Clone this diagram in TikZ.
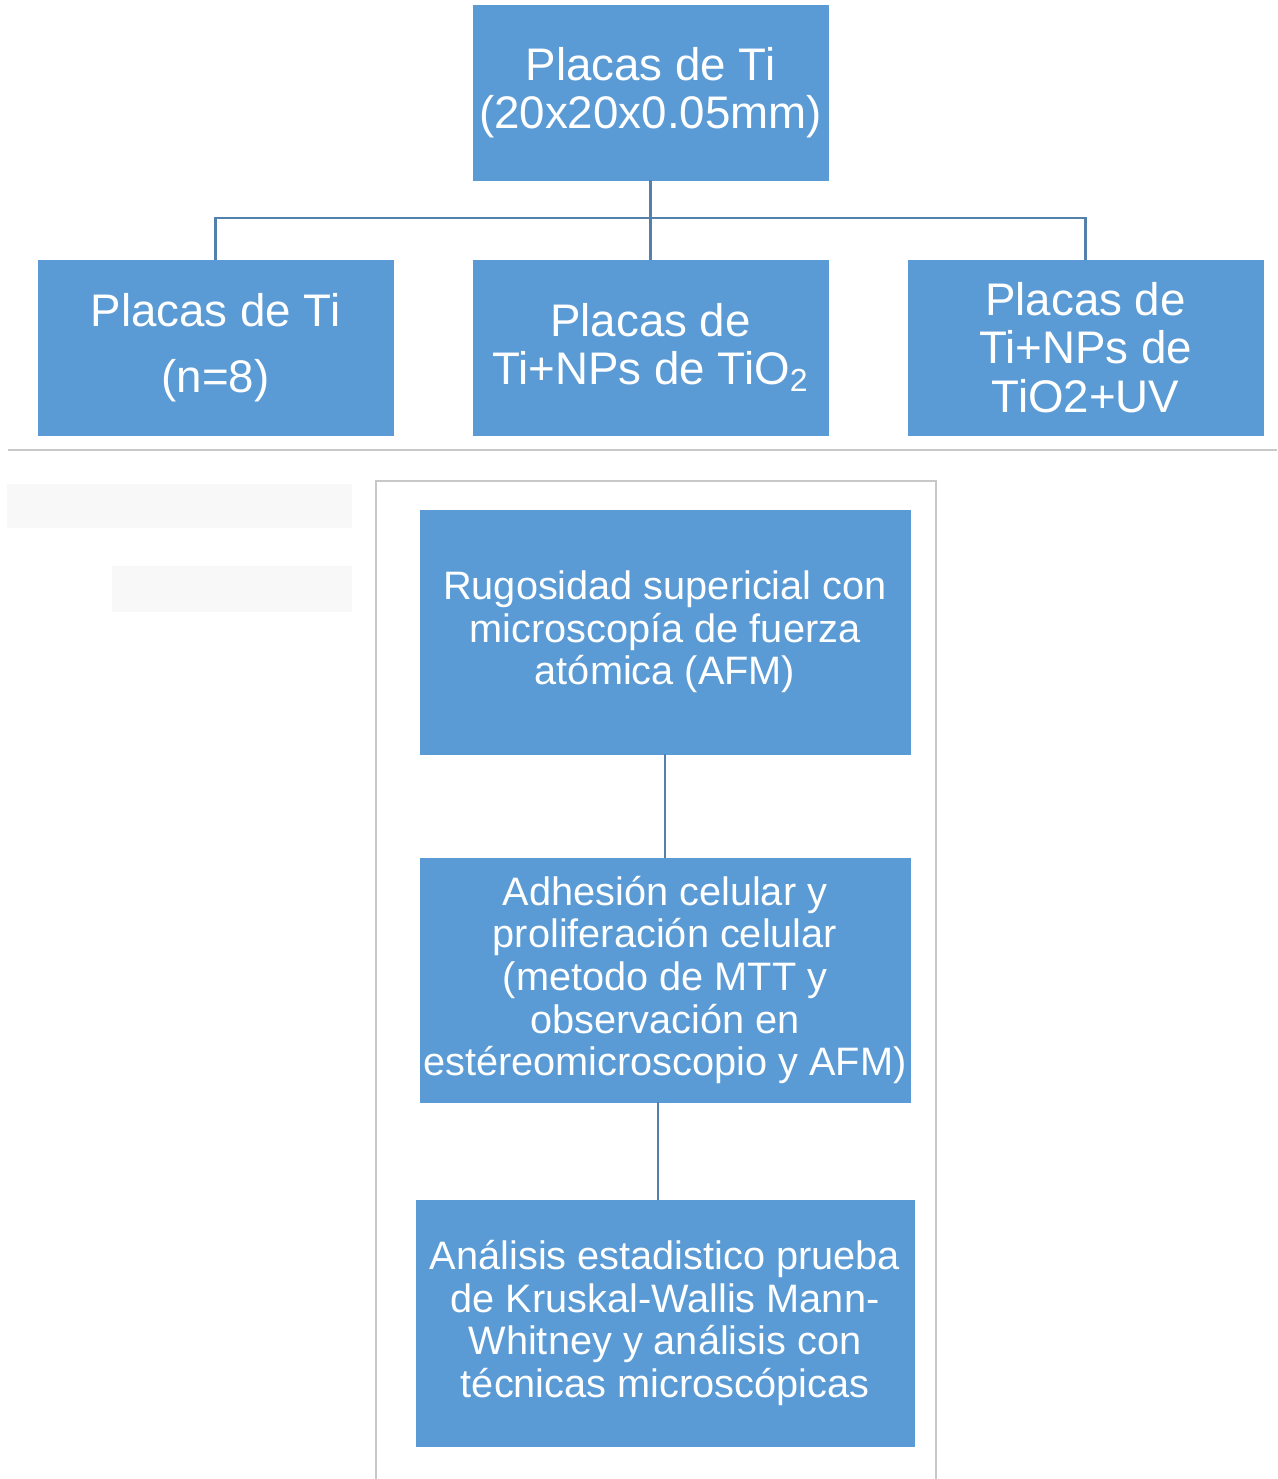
\documentclass[tikz,border=0pt]{standalone}
\usepackage{fontspec}
\setmainfont{Liberation Sans}
\usetikzlibrary{positioning}
\definecolor{azulcaja}{RGB}{91,155,213}
\definecolor{lineaazul}{RGB}{84,128,172}
\definecolor{grismarco}{RGB}{200,200,200}
\definecolor{grisfondo}{RGB}{248,248,248}
\begin{document}
\begin{tikzpicture}[
    x=0.02cm, y=-0.02cm,
    caja/.style={
        rectangle, fill=azulcaja, draw=azulcaja, text=white,
        align=center, inner sep=2pt
    },
    cajafila/.style={
        caja, minimum width=7.1cm, minimum height=3.5cm,
        font=\fontsize{26}{27.5}\selectfont
    },
    cajapaso/.style={
        caja, minimum width=9.8cm, minimum height=4.88cm,
        font=\fontsize{22.6}{24.2}\selectfont
    },
    conector/.style={draw=lineaazul, line width=1.4pt},
    marco/.style={draw=grismarco, line width=0.6pt},
]
\useasboundingbox (0,0) rectangle (1277,1479);

% ── Fondo ────────────────────────────────────────────────────
\fill[grisfondo] (7,484) rectangle (352,528);
\fill[grisfondo] (112,566) rectangle (352,612);
\draw[marco] (8,450) -- (1277,450);
\draw[marco] (376,1479) |- (936,481) -- (936,1479);

% ── Placas ───────────────────────────────────────────────────
\node[cajafila] (placas) at (650.5,92.5) {Placas de Ti\\(20x20x0.05mm)};
\node[cajafila] (ti)     at (215.5,347.5) {Placas de Ti\\[10pt](n=8)};
\node[cajafila] (tinp)   at (650.5,347.5) {Placas de\\Ti+NPs de TiO\textsubscript{2}};
\node[cajafila] (tinpuv) at (1085.5,347.5) {Placas de\\Ti+NPs de\\TiO2+UV};

\coordinate (rama) at (650.5,218);
\draw[conector] (ti.north) |- (rama) -| (tinpuv.north);
\draw[conector] (placas.south) -- (tinp.north);

% ── Pruebas ──────────────────────────────────────────────────
\node[cajapaso] (afm) at (665,632)
    {Rugosidad supericial con\\microscopía de fuerza\\atómica (AFM)};
\node[cajapaso] (adh) at (665,980)
    {Adhesión celular y\\proliferación celular\\(metodo de MTT y\\observación en\\estéreomicroscopio y AFM)};
\node[cajapaso, minimum width=9.96cm, minimum height=4.92cm] (est) at (665,1323)
    {Análisis estadistico prueba\\de Kruskal-Wallis Mann-\\Whitney y análisis con\\técnicas microscópicas};

\draw[conector] (afm.south) -- (adh.north);
\draw[conector] ([xshift=-0.14cm]adh.south) -- ([xshift=-0.14cm]est.north);

\end{tikzpicture}
\end{document}
